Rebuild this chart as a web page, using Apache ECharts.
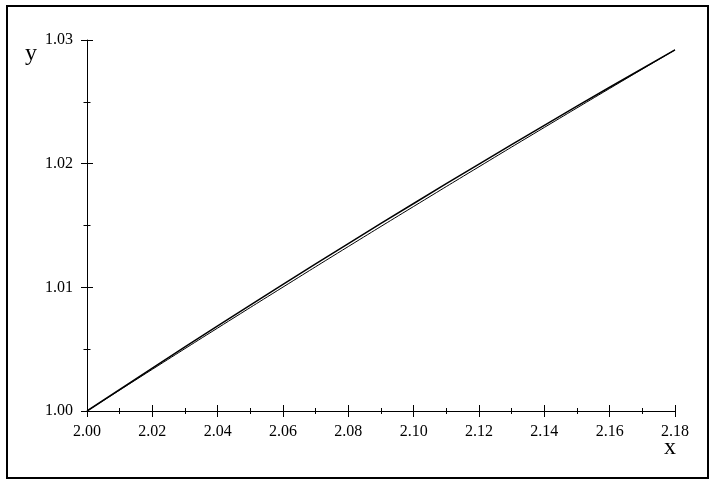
<!DOCTYPE html>
<html>
<head>
<meta charset="utf-8">
<script src="https://cdn.jsdelivr.net/npm/echarts@6/dist/echarts.min.js"></script>
<style>
  html, body { margin: 0; padding: 0; background: #fff; }
  #chart { width: 718px; height: 492px; }
</style>
</head>
<body>
<div id="chart"></div>
<script>
// values
const xValues = [2.00, 2.02, 2.04, 2.06, 2.08, 2.10, 2.12, 2.14, 2.16, 2.18]
const upperY = [1.00000, 1.00347, 1.00688, 1.01024, 1.01354, 1.01678, 1.01997, 1.02310, 1.02618, 1.02920]
const lowerY = [1.00000, 1.00337, 1.00671, 1.01002, 1.01330, 1.01654, 1.01975, 1.02293, 1.02608, 1.02920]
const xTicks = { min: 2.00, max: 2.18, step: 0.02 }
const yTicks = { min: 1.00, max: 1.03, step: 0.01 }

const font = '"Liberation Serif", "Times New Roman", serif'

const myChart = echarts.init(document.getElementById('chart'), null, { renderer: 'canvas' })

// one axis draws ticks outward with labels, the twin draws them inward so ticks cross the line
const makeX = (outer) => ({
	type: 'value',
	position: 'bottom',
	min: xTicks.min,
	max: xTicks.max,
	interval: xTicks.step,
	axisLine: { show: outer, lineStyle: { color: '#000', width: 1 } },
	axisTick: { show: true, inside: !outer, length: 6, lineStyle: { color: '#000', width: 1 } },
	minorTick: { show: true, splitNumber: 2, length: 3, lineStyle: { color: '#000', width: 1 } },
	axisLabel: {
		show: outer,
		margin: 13,
		color: '#000',
		fontFamily: font,
		fontSize: 16,
		formatter: v => v.toFixed(2)
	},
	splitLine: { show: false }
})

const makeY = (outer) => ({
	type: 'value',
	position: 'left',
	min: yTicks.min,
	max: yTicks.max,
	interval: yTicks.step,
	axisLine: { show: outer, lineStyle: { color: '#000', width: 1 } },
	axisTick: { show: true, inside: !outer, length: 6, lineStyle: { color: '#000', width: 1 } },
	minorTick: { show: true, splitNumber: 2, length: 3.5, lineStyle: { color: '#000', width: 1 } },
	axisLabel: {
		show: outer,
		margin: 14,
		color: '#000',
		fontFamily: font,
		fontSize: 16,
		formatter: v => v.toFixed(2)
	},
	splitLine: { show: false }
})

const option = {
	animation: false,
	backgroundColor: '#fff',
	grid: { left: 87, right: 43, top: 40, bottom: 81, containLabel: false },
	xAxis: [makeX(true), makeX(false)],
	yAxis: [makeY(true), makeY(false)],
	graphic: [
		{
			type: 'rect',
			shape: { x: 7, y: 6, width: 701, height: 472 },
			style: { fill: 'none', stroke: '#000', lineWidth: 2 },
			silent: true
		},
		{
			type: 'text',
			left: 25, top: 42,
			style: { text: 'y', fill: '#000', font: '24px ' + font }
		},
		{
			type: 'text',
			left: 664, top: 436,
			style: { text: 'x', fill: '#000', font: '24px ' + font }
		}
	],
	series: [
		{
			name: 'upper',
			type: 'line',
			xAxisIndex: 0,
			yAxisIndex: 0,
			data: xValues.map((x, i) => [x, upperY[i]]),
			smooth: true,
			showSymbol: false,
			lineStyle: { color: '#000', width: 1.5 }
		},
		{
			name: 'lower',
			type: 'line',
			xAxisIndex: 0,
			yAxisIndex: 0,
			data: xValues.map((x, i) => [x, lowerY[i]]),
			smooth: true,
			showSymbol: false,
			lineStyle: { color: '#000', width: 1 }
		}
	]
}

myChart.setOption(option)
</script>
</body>
</html>
